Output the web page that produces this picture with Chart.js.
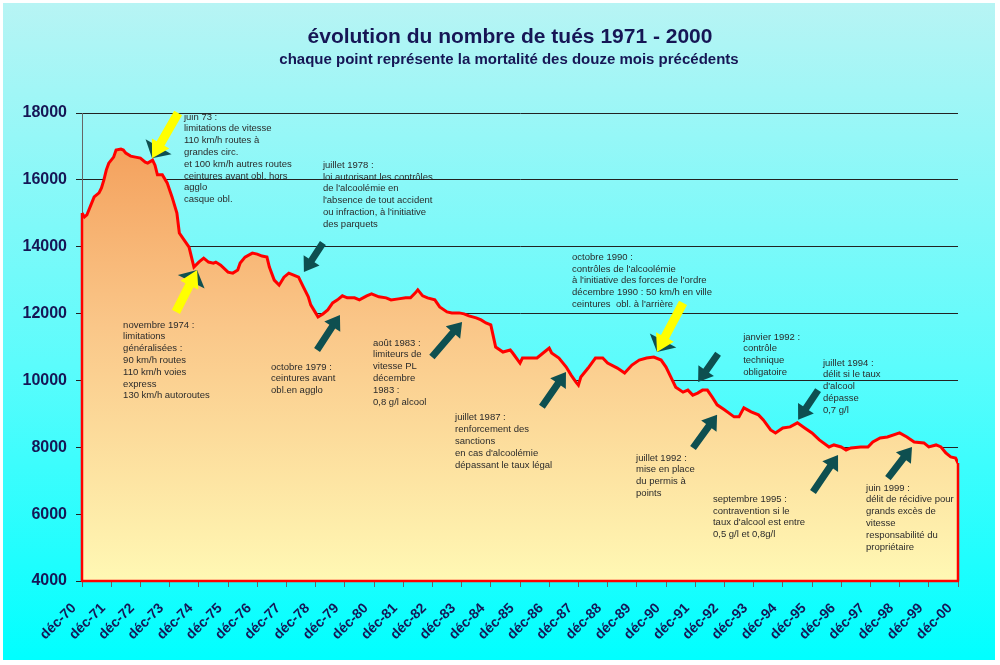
<!DOCTYPE html>
<html><head><meta charset="utf-8">
<script src="https://cdn.jsdelivr.net/npm/chart.js@4/dist/chart.umd.min.js"></script>
<style>html,body{margin:0;padding:0;background:#fff}canvas{display:block}</style>
</head><body>
<canvas id="c" width="1000" height="665" style="width:1000px;height:665px"></canvas>
<script>
// ---- data (months since déc-70, deaths over the preceding 12 months) ----
const months = [0,1,2,4,5,7,8,9,10,11,13,14,16,17,18,20,22,24,26,27,29,30,31,33,35,37,39,40,42,44,45,46,48,50,52,54,55,57,60,62,64,65,67,70,72,74,76,77,79,81,83,85,87,89,91,93,94,96,97,99,101,103,105,107,109,112,114,117,119,122,125,127,130,133,135,137,138,140,142,145,147,150,152,155,157,159,162,164,166,168,170,173,176,177,180,181,184,187,190,192,193,196,199,201,203,204,205,208,211,214,216,220,223,226,229,232,235,238,240,242,244,247,249,251,253,255,257,259,261,264,268,270,272,275,278,280,283,285,288,291,294,297,300,303,307,309,312,314,316,320,323,325,328,331,336,339,342,346,348,351,353,355,357,359,360];
const deaths = [15010,14890,14950,15310,15490,15610,15760,16000,16300,16500,16680,16890,16920,16890,16800,16710,16680,16650,16530,16500,16590,16440,16150,16150,15910,15490,15010,14410,14200,13990,13690,13390,13540,13660,13540,13510,13540,13450,13240,13210,13300,13510,13690,13810,13780,13720,13690,13390,13000,12850,13090,13210,13150,13090,12790,12500,12260,12020,11900,11990,12110,12320,12410,12530,12470,12470,12410,12530,12590,12500,12470,12410,12440,12470,12470,12620,12710,12530,12470,12410,12200,12050,12020,12020,11990,11930,11870,11810,11720,11660,11000,10850,10910,10820,10520,10670,10670,10670,10850,10970,10820,10670,10400,10160,9950,9860,10100,10370,10670,10670,10520,10370,10220,10460,10610,10670,10700,10610,10400,10100,9800,9650,9710,9560,9620,9710,9710,9500,9270,9120,8910,8910,9180,9060,8970,8820,8520,8430,8580,8610,8730,8580,8430,8220,8010,8070,8010,7920,7980,8010,8010,8160,8280,8310,8430,8310,8160,8130,8010,8070,8010,7830,7710,7680,7530];
const tickLabels = ['déc-70','déc-71','déc-72','déc-73','déc-74','déc-75','déc-76','déc-77','déc-78','déc-79','déc-80','déc-81','déc-82','déc-83','déc-84','déc-85','déc-86','déc-87','déc-88','déc-89','déc-90','déc-91','déc-92','déc-93','déc-94','déc-95','déc-96','déc-97','déc-98','déc-99','déc-00'];
const titleText = 'évolution du nombre de tués 1971 - 2000';
const subtitleText = 'chaque point représente la mortalité des douze mois précédents';

// ---- annotations (anchored in data units) ----
const notes = [
  {m:41.9, v:17880, lines:['juin 73 :','limitations de vitesse','110 km/h routes à','grandes circ.','et 100 km/h autres routes','ceintures avant obl. hors','agglo','casque obl.']},
  {m:99.0, v:16440, lines:['juillet 1978 :','loi autorisant les contrôles','de l\'alcoolémie en','l\'absence de tout accident','ou infraction, à l\'initiative','des parquets']},
  {m:16.9, v:11660, lines:['novembre 1974 :','limitations','généralisées :','90 km/h routes','110 km/h voies','express','130 km/h autoroutes']},
  {m:77.7, v:10400, lines:['octobre 1979 :','ceintures avant','obl.en agglo']},
  {m:119.6, v:11120, lines:['août 1983 :','limiteurs de','vitesse PL','décembre','1983 :','0,8 g/l alcool']},
  {m:153.3, v:8880, lines:['juillet 1987 :','renforcement des','sanctions','en cas d\'alcoolémie','dépassant le taux légal']},
  {m:201.4, v:13690, lines:['octobre 1990 :','contrôles de l\'alcoolémie','à l\'initiative des forces de l\'ordre','décembre 1990 : 50 km/h en ville','ceintures  obl. à l\'arrière']},
  {m:271.7, v:11300, lines:['janvier 1992 :','contrôle','technique','obligatoire']},
  {m:304.5, v:10520, lines:['juillet 1994 :','délit si le taux','d\'alcool','dépasse','0,7 g/l']},
  {m:227.7, v:7680, lines:['juillet 1992 :','mise en place','du permis à','points']},
  {m:259.3, v:6450, lines:['septembre 1995 :','contravention si le','taux d\'alcool est entre','0,5 g/l et 0,8g/l']},
  {m:322.2, v:6780, lines:['juin 1999 :','délit de récidive pour','grands excès de','vitesse','responsabilité du','propriétaire']}
];
const arrows = [
  {kind:'yellow', from:[39.5,18000], to:[28.8,16650]},
  {kind:'yellow', from:[38.6,12050], to:[47.3,13300]},
  {kind:'yellow', from:[247,12320], to:[236.3,10850]},
  {kind:'dark', from:[99.0,14110], to:[91.2,13240]},
  {kind:'dark', from:[96.6,10910], to:[106,11960]},
  {kind:'dark', from:[143.8,10700], to:[156.2,11750]},
  {kind:'dark', from:[189,9210], to:[198.9,10250]},
  {kind:'dark', from:[261.4,10800], to:[253.2,9950]},
  {kind:'dark', from:[251.1,7980], to:[261,8970]},
  {kind:'dark', from:[302.5,9710], to:[294.3,8820]},
  {kind:'dark', from:[300.4,6660], to:[310.7,7770]},
  {kind:'dark', from:[331.2,7080], to:[341.1,8010]}
];

Chart.defaults.font.family = '"Liberation Sans", Arial, sans-serif';
const NAVY = '#161655';

function shape(ctx, x1,y1,x2,y2, sw, hw, hl){
  const dx=x2-x1, dy=y2-y1, L=Math.hypot(dx,dy), ux=dx/L, uy=dy/L, px=-uy, py=ux;
  const bx=x2-ux*hl, by=y2-uy*hl;
  ctx.beginPath();
  ctx.moveTo(x1+px*sw/2, y1+py*sw/2);
  ctx.lineTo(bx+px*sw/2, by+py*sw/2);
  ctx.lineTo(bx+px*hw/2, by+py*hw/2);
  ctx.lineTo(x2,y2);
  ctx.lineTo(bx-px*hw/2, by-py*hw/2);
  ctx.lineTo(bx-px*sw/2, by-py*sw/2);
  ctx.lineTo(x1-px*sw/2, y1-py*sw/2);
  ctx.closePath();
}
function head(ctx, x1,y1,x2,y2, hw, hl){
  const dx=x2-x1, dy=y2-y1, L=Math.hypot(dx,dy), ux=dx/L, uy=dy/L, px=-uy, py=ux;
  const bx=x2-ux*hl, by=y2-uy*hl;
  ctx.beginPath();
  ctx.moveTo(x2,y2);
  ctx.lineTo(bx+px*hw/2, by+py*hw/2);
  ctx.lineTo(bx-px*hw/2, by-py*hw/2);
  ctx.closePath();
}

const bgPlugin = {
  id:'bg',
  beforeDraw(chart){
    const ctx = chart.ctx;
    ctx.save();
    ctx.fillStyle = '#ffffff';
    ctx.fillRect(0,0,chart.width,chart.height);
    const g = ctx.createLinearGradient(0,0,0,660);
    g.addColorStop(0,'#b8f4f4');
    g.addColorStop(0.55,'#5cfcfc');
    g.addColorStop(1,'#00ffff');
    ctx.fillStyle = g;
    ctx.fillRect(3,3,992,657);
    // titles
    ctx.fillStyle = NAVY;
    ctx.textAlign = 'center';
    ctx.textBaseline = 'alphabetic';
    ctx.font = 'bold 21px "Liberation Sans", Arial, sans-serif';
    ctx.fillText(titleText, 510, 43);
    ctx.font = 'bold 15px "Liberation Sans", Arial, sans-serif';
    ctx.fillText(subtitleText, 509, 64);
    ctx.restore();
  }
};

const overlayPlugin = {
  id:'overlay',
  afterDatasetsDraw(chart){
    const ctx = chart.ctx, xs = chart.scales.x, ys = chart.scales.y;
    const n = months.length-1;
    const x0 = xs.getPixelForValue(months[0]), y0 = ys.getPixelForValue(deaths[0]);
    const xn = xs.getPixelForValue(months[n]), yn = ys.getPixelForValue(deaths[n]);
    const yb = ys.getPixelForValue(ys.min);
    ctx.save();
    ctx.strokeStyle = '#ff0000';
    ctx.lineWidth = 2.5;
    ctx.lineJoin = 'round';
    ctx.beginPath();
    ctx.moveTo(x0,y0); ctx.lineTo(x0,yb); ctx.lineTo(xn,yb); ctx.lineTo(xn,yn);
    ctx.stroke();

    // arrows
    arrows.forEach(a=>{
      const x1 = xs.getPixelForValue(a.from[0]), y1 = ys.getPixelForValue(a.from[1]);
      const x2 = xs.getPixelForValue(a.to[0]), y2 = ys.getPixelForValue(a.to[1]);
      if (a.kind==='yellow'){
        ctx.fillStyle = '#0e4f50';
        head(ctx, x1,y1,x2,y2, 30, 13); ctx.fill();
        ctx.fillStyle = '#ffff00';
        shape(ctx, x1,y1,x2,y2, 9, 20, 17); ctx.fill();
      } else {
        ctx.fillStyle = '#0e4f50';
        shape(ctx, x1,y1,x2,y2, 7, 19, 14); ctx.fill();
      }
    });

    // notes
    ctx.fillStyle = '#2b2b2b';
    ctx.font = '9.5px "Liberation Sans", Arial, sans-serif';
    ctx.textAlign = 'left';
    ctx.textBaseline = 'middle';
    notes.forEach(nt=>{
      const x = xs.getPixelForValue(nt.m), y = ys.getPixelForValue(nt.v);
      nt.lines.forEach((l,i)=> ctx.fillText(l, x, y + i*11.8));
    });
    ctx.restore();
  }
};

const cv = document.getElementById('c');
new Chart(cv.getContext('2d'), {
  type:'line',
  data:{datasets:[{
    data: months.map((m,i)=>({x:m, y:deaths[i]})),
    borderColor:'#ff0000', borderWidth:3, pointRadius:0, tension:0,
    fill:'start',
    backgroundColor:(c)=>{
      const {ctx, chartArea} = c.chart;
      if(!chartArea) return '#f8c07b';
      const g = ctx.createLinearGradient(0,chartArea.top,0,chartArea.bottom);
      g.addColorStop(0,'#f39a55');
      g.addColorStop(0.45,'#fac688');
      g.addColorStop(1,'#fff8b4');
      return g;
    }
  }]},
  options:{
    responsive:false, animation:false, devicePixelRatio:1,
    layout:{padding:{top:113, right:42, left:0, bottom:0}},
    plugins:{legend:{display:false}, tooltip:{enabled:false}, title:{display:false}},
    scales:{
      x:{
        type:'linear', min:0, max:360,
        afterFit(s){ s.height = 84; },
        afterBuildTicks(s){ s.ticks = tickLabels.map((_,i)=>({value:i*12})); },
        ticks:{autoSkip:false, minRotation:45, maxRotation:45, padding:13, labelOffset:-8,
          font:{size:14, weight:'bold'}, color:NAVY,
          callback:(v)=>tickLabels[Math.round(v/12)]},
        grid:{drawOnChartArea:false, tickLength:6, color:'#666'},
        border:{display:false}
      },
      y:{
        min:4000, max:18000,
        afterFit(s){ s.width = 82; },
        ticks:{stepSize:2000, padding:9, font:{size:16, weight:'bold'}, color:NAVY,
          callback:(v)=>String(v)},
        grid:{color:'#222', tickLength:6},
        border:{color:'#666'}
      }
    }
  },
  plugins:[bgPlugin, overlayPlugin]
});
</script>
</body></html>
